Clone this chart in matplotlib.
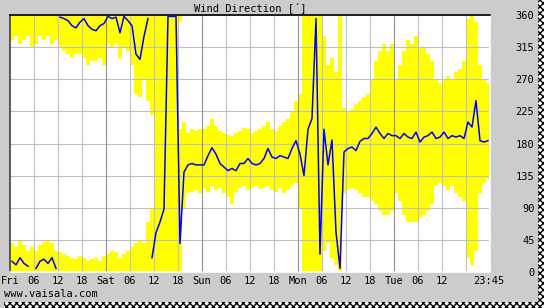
import numpy as np
import matplotlib
matplotlib.use("Agg")
import matplotlib.pyplot as plt
from matplotlib.patches import Rectangle

# === DATA (hourly, Fri 00:00 .. Tue 23:45) ===
day_names = ["Fri", "Sat", "Sun", "Mon", "Tue"]
end_label = "23:45"
y_ticks = [0, 45, 90, 135, 180, 225, 270, 315, 360]

# mean wind direction, degrees
dir_mean = [
    15, 10, 20, 12, 8, 358, 5, 15, 18, 12, 20, 5, 357, 355, 352, 345, 342, 350, 355, 345, 340, 338, 345, 348,
    358, 355, 357, 335, 358, 352, 345, 305, 298, 330, 355, 20, 55, 70, 88, 358, 358, 358, 40, 140, 150, 152, 150, 150,
    150, 163, 174, 165, 152, 147, 142, 145, 142, 152, 152, 159, 152, 150, 152, 159, 173, 161, 159, 163, 161, 159, 173, 184,
    165, 135, 200, 215, 355, 25, 200, 150, 185, 56, 5, 168, 173, 175, 170, 183, 187, 187, 194, 203, 194, 187, 194, 191,
    191, 187, 194, 189, 187, 196, 182, 189, 191, 196, 187, 189, 196, 187, 191, 189, 191, 187, 210, 203, 240, 184, 182, 184,
]
# min / max of the hour (may go past 0 or 360, wraps round)
dir_min = [
    -35, -30, -40, -35, -30, -45, -40, -30, -35, -30, -40, -35, -45, -50, -55, -60, -55, -55, -60, -70, -65, -65, -60, -70,
    -40, -45, -40, -60, -45, -50, -70, -110, -115, -90, -120, -140, -180, -180, -180, -180, -180, -180, -10, 90, 110, 112, 115, 110,
    118, 112, 120, 115, 118, 110, 105, 95, 112, 118, 120, 115, 118, 120, 116, 118, 120, 115, 112, 118, 110, 115, 120, 125,
    90, 0, 0, 0, 0, 0, 30, 40, 20, 10, 0, 110, 115, 118, 115, 110, 105, 105, 100, 95, 85, 80, 80, 85,
    110, 100, 80, 70, 70, 70, 75, 80, 85, 95, 120, 125, 120, 115, 120, 110, 105, 100, 20, 10, 30, 110, 125, 130,
]
dir_max = [
    40, 35, 45, 38, 30, 35, 30, 38, 42, 45, 40, 30, 28, 25, 22, 20, 18, 22, 20, 15, 18, 20, 15, 22,
    25, 30, 28, 20, 25, 30, 35, 40, 45, 40, 70, 90, 180, 180, 180, 180, 180, 180, 200, 210, 195, 200, 198, 200,
    200, 205, 215, 205, 198, 195, 192, 190, 195, 198, 202, 200, 195, 198, 200, 205, 210, 200, 198, 205, 210, 215, 225, 240,
    250, 360, 360, 360, 360, 360, 330, 290, 300, 280, 360, 230, 225, 228, 235, 240, 245, 250, 270, 295, 310, 320, 310, 320,
    270, 290, 310, 325, 320, 330, 315, 315, 305, 295, 270, 265, 270, 275, 270, 280, 285, 295, 355, 360, 350, 290, 270, 265,
]

FONT = "DejaVu Sans Mono"
W, H = 544, 308
fig = plt.figure(figsize=(W / 100, H / 100), dpi=100)
fig.patch.set_facecolor("#cccccc")

# drop shadow strips (right + bottom)
for r in [(538, 4, 6, 304), (4, 0, 540, 6)]:
    x, y, w, h = r
    fig.patches.append(Rectangle((x / W, y / H), w / W, h / H, transform=fig.transFigure,
                                 facecolor="white", edgecolor="#000000", hatch="xxxxx", lw=0))

ax = fig.add_axes([10 / W, (H - 272) / H, 480 / W, 257 / H])
ax.set_facecolor("white")
ax.set_xlim(0, 120)
ax.set_ylim(0, 360)

hours = np.arange(len(dir_mean))
lo = np.array(dir_min, dtype=float)
hi = np.array(dir_max, dtype=float)

# yellow min/max bars, wrapped round 0/360
b1 = np.clip(lo, 0, 360)
t1 = np.clip(hi, 0, 360)
ax.bar(hours, t1 - b1, bottom=b1, width=1.0, align="edge", color="#ffff00", lw=0, zorder=1)
neg = lo < 0
ax.bar(hours[neg], -lo[neg], bottom=360 + lo[neg], width=1.0, align="edge", color="#ffff00", lw=0, zorder=1)
over = hi > 360
ax.bar(hours[over], hi[over] - 360, bottom=0, width=1.0, align="edge", color="#ffff00", lw=0, zorder=1)

# grid
for v in y_ticks:
    ax.axhline(v, color="#c0c0c0", lw=0.8, zorder=2)
for hr in range(6, 120, 6):
    ax.axvline(hr, color="#909090" if hr % 24 == 0 else "#c0c0c0", lw=0.8, zorder=2)

# mean line, broken where it wraps round
x = hours + 0.5
y = np.array(dir_mean, dtype=float)
cut = np.where(np.abs(np.diff(y)) > 330)[0] + 1
ax.plot(np.insert(x, cut, np.nan), np.insert(y, cut, np.nan), color="#0000ff", lw=1.1, zorder=3)

# border: sunken look
for side, c in [("top", "#000000"), ("left", "#404040"), ("bottom", "white"), ("right", "white")]:
    ax.spines[side].set_color(c)
    ax.spines[side].set_linewidth(1.2)

# x labels
xt, xl = [], []
for d, name in enumerate(day_names):
    for k, lab in enumerate([name, "06", "12", "18"]):
        h = d * 24 + k * 6
        if h <= 110:
            xt.append(h)
            xl.append(lab)
xt.append(119.75)
xl.append(end_label)
ax.set_xticks(xt)
ax.set_xticklabels(xl, fontfamily=FONT, fontsize=7.5)
ax.tick_params(axis="x", length=0, pad=3)

ax.yaxis.tick_right()
ax.set_yticks(y_ticks)
ax.set_yticklabels([str(v) for v in y_ticks], fontfamily=FONT, fontsize=7.5, ha="right")
ax.tick_params(axis="y", length=0, pad=32)

fig.text(250 / W, 1 - 7.5 / H, "Wind Direction [´]", ha="center", va="center", fontfamily=FONT, fontsize=7.5)
fig.text(4 / W, 1 - 294 / H, "www.vaisala.com", ha="left", va="center", fontfamily=FONT, fontsize=7.5)

fig.savefig("out.png", dpi=100, facecolor=fig.get_facecolor())
